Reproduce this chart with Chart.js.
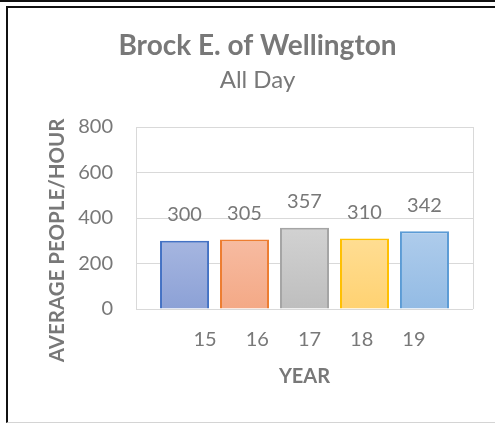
<!DOCTYPE html>
<html lang="en">
<head>
<meta charset="UTF-8">
<title>Brock E. of Wellington</title>
<script src="https://cdn.jsdelivr.net/npm/chart.js"></script>
</head>
<body style="margin:0; background:#fff;">
<div style="position:absolute; left:0; top:0; width:495px; height:2px; background:#111;"></div>
<div style="position:absolute; left:6px; top:6px; width:489px; height:417px; box-sizing:border-box; border-left:2px solid #111; border-top:2px solid #111; border-bottom:1px solid #d4d4d4;">
  <canvas id="chart" width="487" height="414"></canvas>
</div>
<script>
const years = ['15', '16', '17', '18', '19'];
const peoplePerHour = [300, 305, 357, 310, 342];
const yTicks = [0, 200, 400, 600, 800];

const fillTop = ['#abbae2', '#f7bea6', '#d2d2d2', '#ffdf98', '#b0cdec'];
const fillBottom = ['#8ca1d6', '#f4a986', '#bebebe', '#ffd272', '#93bbe4'];
const borderColors = ['#4472c4', '#ed7d31', '#a5a5a5', '#ffc000', '#5b9bd5'];
const textGray = '#787878';
const gridGray = '#d9d9d9';

Chart.defaults.font.family = 'Lato';
Chart.defaults.color = textGray;

function barFill(i) {
    return (context) => {
        const area = context.chart.chartArea;
        if (!area) return fillBottom[i];
        const g = context.chart.ctx.createLinearGradient(0, area.top + 100, 0, area.bottom);
        g.addColorStop(0, fillTop[i]);
        g.addColorStop(1, fillBottom[i]);
        return g;
    };
}

// valeurs au-dessus des barres
const valueLabels = {
    id: 'valueLabels',
    afterDatasetsDraw(chart) {
        const ctx = chart.ctx;
        ctx.save();
        ctx.font = '20px Lato';
        ctx.fillStyle = textGray;
        ctx.textAlign = 'center';
        ctx.textBaseline = 'middle';
        chart.data.datasets.forEach((ds, i) => {
            chart.getDatasetMeta(i).data.forEach((bar, j) => {
                ctx.fillText(ds.data[j], bar.x, bar.y - 26);
            });
        });
        ctx.restore();
    }
};

new Chart(document.getElementById('chart'), {
    type: 'bar',
    data: {
        labels: [''],
        datasets: years.map((yr, i) => ({
            label: yr,
            data: [peoplePerHour[i]],
            backgroundColor: barFill(i),
            borderColor: borderColors[i],
            borderWidth: 2,
            categoryPercentage: 0.89,
            barPercentage: 0.817
        }))
    },
    options: {
        responsive: false,
        devicePixelRatio: 1,
        animation: false,
        layout: { padding: { left: 34, right: 22, top: 0, bottom: 29 } },
        plugins: {
            title: {
                display: true,
                text: 'Brock E. of Wellington',
                font: { size: 28, weight: 'bold' },
                color: textGray,
                padding: { top: 21, bottom: 3 }
            },
            subtitle: {
                display: true,
                text: 'All Day',
                font: { size: 24 },
                color: textGray,
                padding: { top: 0, bottom: 32.6 }
            },
            legend: {
                position: 'bottom',
                fullSize: false,
                onClick: null,
                labels: {
                    boxWidth: 0,
                    boxHeight: 24,
                    padding: 19,
                    font: { size: 20 },
                    color: textGray,
                    generateLabels: (chart) => Chart.defaults.plugins.legend.labels.generateLabels(chart)
                        .map(item => ({ ...item, lineWidth: 0, fillStyle: 'rgba(0,0,0,0)', strokeStyle: 'rgba(0,0,0,0)' }))
                }
            },
            tooltip: { enabled: false }
        },
        scales: {
            x: {
                weight: 2000,
                grid: { color: gridGray, drawTicks: false },
                border: { display: false },
                ticks: { display: false },
                title: {
                    display: true,
                    text: 'YEAR',
                    font: { size: 20, weight: 'bold' },
                    color: textGray,
                    padding: { top: 3, bottom: 4 }
                }
            },
            y: {
                min: 0,
                max: 800,
                afterBuildTicks: (axis) => { axis.ticks = yTicks.map(v => ({ value: v })); },
                afterFit: (axis) => { axis.width = 94; },
                grid: { color: gridGray, drawTicks: false },
                border: { color: gridGray },
                ticks: { padding: 23, font: { size: 20 }, color: textGray },
                title: {
                    display: true,
                    text: 'AVERAGE PEOPLE/HOUR' + ' '.repeat(9),
                    font: { size: 20.5, weight: 'bold' },
                    color: textGray,
                    padding: { top: 3, bottom: 8 }
                }
            }
        }
    },
    plugins: [valueLabels]
});
</script>
</body>
</html>
